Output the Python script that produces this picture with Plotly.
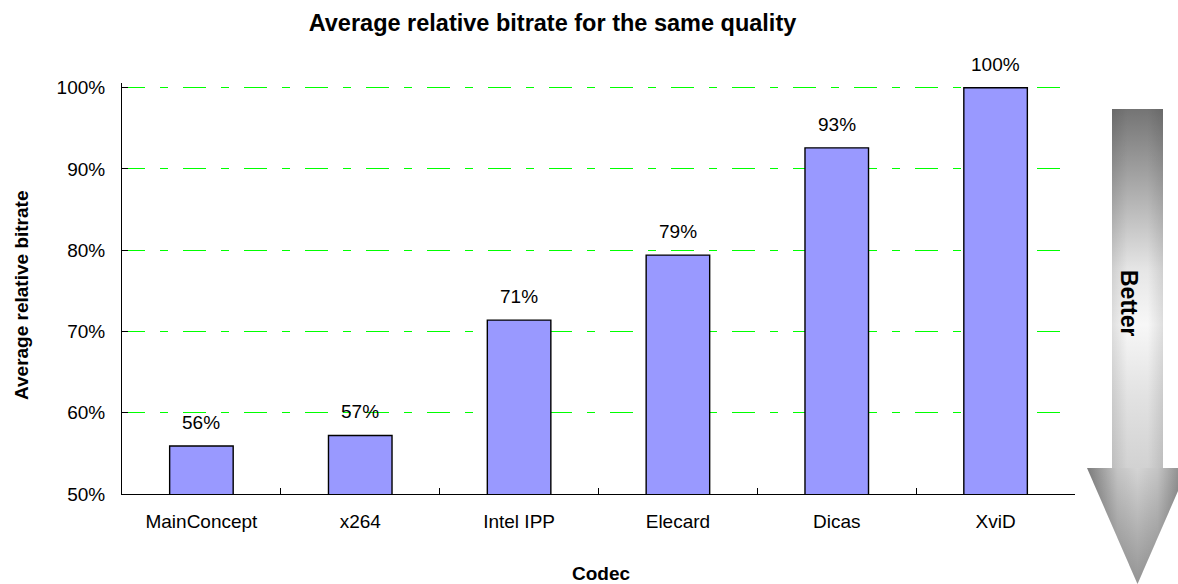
import plotly.graph_objects as go

# ---- data ----
codecs = ["MainConcept", "x264", "Intel IPP", "Elecard", "Dicas", "XviD"]
bitrate_pct = [55.9, 57.2, 71.4, 79.4, 92.6, 100.0]
bar_labels = [f"{round(v)}%" for v in bitrate_pct]
y_ticks = [50, 60, 70, 80, 90, 100]
y_tick_text = [f"{t}%" for t in y_ticks]

W, H = 1178, 584
FONT = "Liberation Sans, Arial, sans-serif"

# plot-area pixel box (y range padded slightly so the 100% gridline is drawn)
Y_MIN, Y_MAX = 50, 100.6
PX_PER_UNIT = (494 - 87.7) / 50.0
PL, PR, PB = 122, 1075, 494
PT = PB - (Y_MAX - Y_MIN) * PX_PER_UNIT

fig = go.Figure()

fig.add_trace(go.Bar(
    x=codecs, y=bitrate_pct, width=0.4,
    marker=dict(color="#9999FF", line=dict(color="#000000", width=1.4)),
    showlegend=False, hoverinfo="x+y",
    xaxis="x", yaxis="y",
))

# value labels above bars
for c, v, lab in zip(codecs, bitrate_pct, bar_labels):
    fig.add_annotation(x=c, y=v, xref="x", yref="y", text=lab, showarrow=False,
                       xanchor="center", yanchor="bottom", yshift=11,
                       font=dict(family=FONT, size=19, color="#000000"))

# ---- "Better" arrow, drawn in a pixel-coordinate overlay subplot ----
shaft_x = [1112, 1163, 1163, 1112, 1112]
shaft_y = [109, 109, 468, 468, 109]
head_x = [1087, 1188, 1137.5, 1087]
head_y = [468, 468, 584, 468]

fig.add_trace(go.Scatter(
    x=shaft_x, y=shaft_y, mode="lines", line=dict(width=0), fill="toself",
    fillgradient=dict(type="vertical", start=109, stop=468,
                      colorscale=[[0.0, "#747474"], [0.2, "#a6a6a6"], [0.45, "#e6e6e6"],
                                  [0.6, "#f7f7f7"], [0.8, "#e2e2e2"], [1.0, "#d2d2d2"]]),
    xaxis="x2", yaxis="y2", showlegend=False, hoverinfo="skip",
))
fig.add_trace(go.Scatter(
    x=shaft_x, y=shaft_y, mode="lines", line=dict(width=0), fill="toself",
    fillgradient=dict(type="horizontal", start=1112, stop=1163,
                      colorscale=[[0.0, "rgba(0,0,0,0.10)"], [0.3, "rgba(0,0,0,0)"],
                                  [0.7, "rgba(0,0,0,0)"], [1.0, "rgba(0,0,0,0.10)"]]),
    xaxis="x2", yaxis="y2", showlegend=False, hoverinfo="skip",
))
fig.add_trace(go.Scatter(
    x=head_x, y=head_y, mode="lines", line=dict(width=0), fill="toself",
    fillgradient=dict(type="horizontal", start=1087, stop=1188,
                      colorscale=[[0.0, "#7c7c7c"], [0.3, "#c4c4c4"], [0.5, "#d4d4d4"],
                                  [0.7, "#c4c4c4"], [1.0, "#7c7c7c"]]),
    xaxis="x2", yaxis="y2", showlegend=False, hoverinfo="skip",
))
fig.add_trace(go.Scatter(
    x=head_x, y=head_y, mode="lines", line=dict(width=0), fill="toself",
    fillgradient=dict(type="vertical", start=468, stop=584,
                      colorscale=[[0.0, "rgba(0,0,0,0)"], [1.0, "rgba(0,0,0,0.30)"]]),
    xaxis="x2", yaxis="y2", showlegend=False, hoverinfo="skip",
))

fig.add_annotation(x=1129, y=303, xref="x2", yref="y2", text="<b>Better</b>",
                   textangle=90, showarrow=False, xanchor="center", yanchor="middle",
                   font=dict(family=FONT, size=23, color="#000000"))

# axis titles
fig.add_annotation(x=21 / W, y=1 - 296 / H, xref="paper", yref="paper",
                   xanchor="center", yanchor="middle",
                   text="<b>Average relative bitrate</b>", textangle=-90, showarrow=False,
                   font=dict(family=FONT, size=19, color="#000000"))
fig.add_annotation(x=601.5 / W, y=1 - 573 / H, xref="paper", yref="paper",
                   xanchor="center", yanchor="middle",
                   text="<b>Codec</b>", showarrow=False,
                   font=dict(family=FONT, size=19, color="#000000"))

fig.update_layout(
    width=W, height=H, autosize=False,
    margin=dict(l=0, r=0, t=0, b=0, autoexpand=False),
    paper_bgcolor="#FFFFFF", plot_bgcolor="rgba(0,0,0,0)",
    font=dict(family=FONT, size=19, color="#000000"),
    title=dict(text="<b>Average relative bitrate for the same quality</b>",
               x=552.5 / W, xanchor="center", xref="paper",
               y=1 - 23 / H, yanchor="middle", yref="container",
               font=dict(family=FONT, size=23.5, color="#000000")),
    xaxis=dict(domain=[PL / W, PR / W], anchor="y", type="category", automargin=False,
               showline=True, linecolor="#000000", linewidth=1,
               ticks="inside", ticklen=6, tickcolor="#000000", tickson="boundaries",
               showgrid=False, ticklabelstandoff=10,
               tickfont=dict(family=FONT, size=19, color="#000000")),
    yaxis=dict(domain=[1 - PB / H, 1 - PT / H], anchor="x", range=[Y_MIN, Y_MAX],
               automargin=False,
               tickvals=y_ticks, ticktext=y_tick_text,
               showline=True, linecolor="#000000", linewidth=1,
               ticks="inside", ticklen=6, tickcolor="#000000",
               showgrid=True, gridcolor="#00FF00", gridwidth=1,
               griddash="23px,15px,8px,15px", zeroline=False,
               ticklabelstandoff=12,
               tickfont=dict(family=FONT, size=19, color="#000000")),
    xaxis2=dict(domain=[0, 1], anchor="y2", range=[0, W], visible=False,
                fixedrange=True, automargin=False),
    yaxis2=dict(domain=[0, 1], anchor="x2", range=[H, 0], visible=False,
                fixedrange=True, automargin=False),
    bargap=0.6,
)

fig.write_html("out.html", config={"displayModeBar": False},
               post_script="document.body.style.margin='0';document.body.style.overflow='hidden';")
